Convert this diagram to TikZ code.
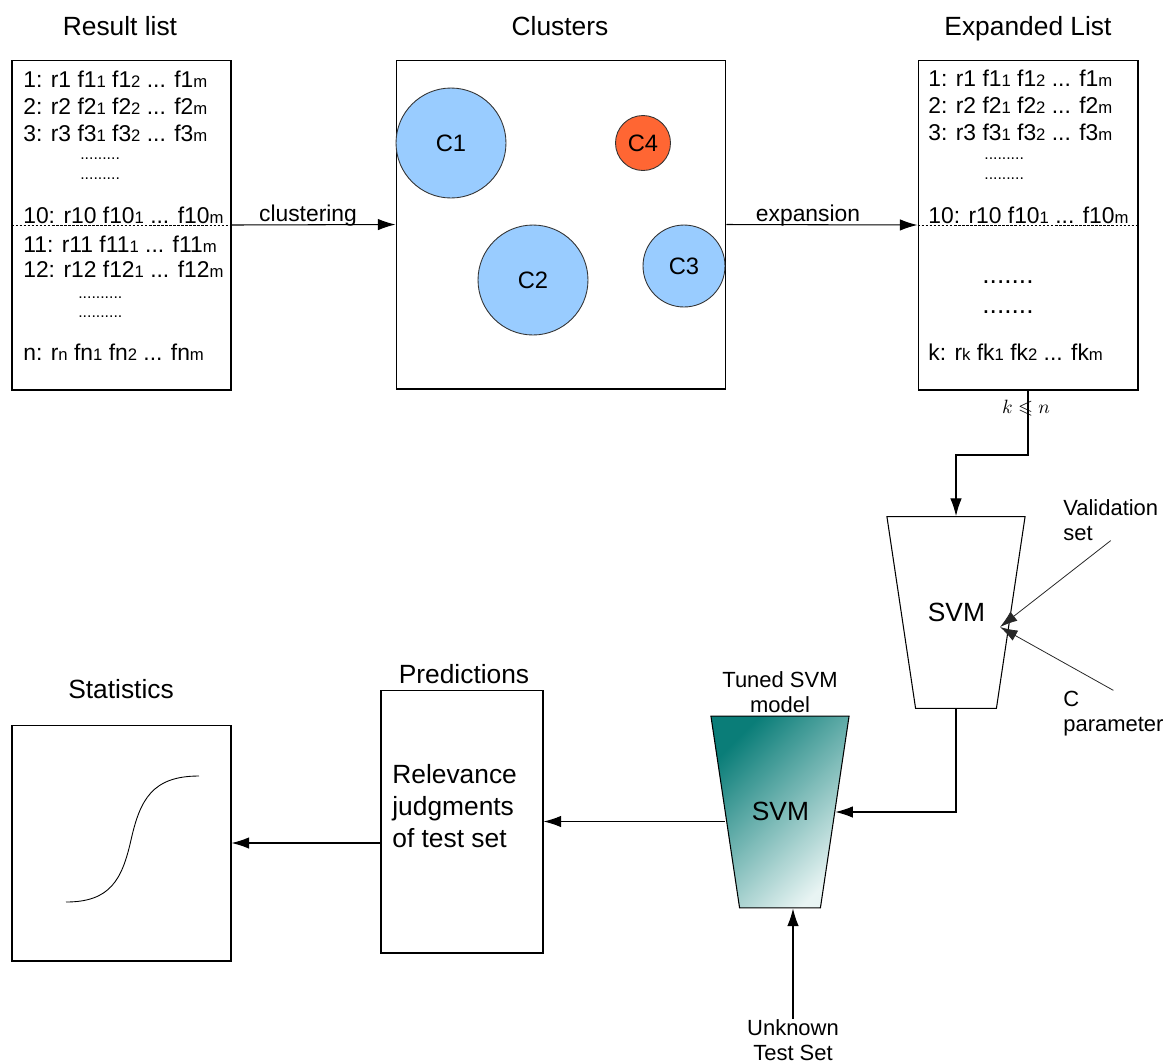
\documentclass[tikz,border=0pt]{standalone}
\usepackage{amssymb}
\usepackage{fontspec}
\setmainfont{Liberation Sans}
\usetikzlibrary{arrows.meta,shapes.geometric}
\definecolor{clblue}{RGB}{153,204,255}
\definecolor{clred}{RGB}{255,102,51}
\definecolor{svmdark}{RGB}{10,125,120}
\definecolor{svmlight}{RGB}{232,244,243}
\newcommand{\low}[1]{{\fontsize{9.5}{10}\selectfont #1}}

\begin{document}
\begin{tikzpicture}[x=0.02cm,y=-0.02cm]
            \tikzstyle{every node}+=[inner sep=0pt]
            \tikzstyle{box}=[draw, rectangle, line width=0.6pt]
            \tikzstyle{title}=[font=\fontsize{15}{18}\selectfont, anchor=base]
            \tikzstyle{entry}=[font=\fontsize{13}{15}\selectfont, anchor=base west]
            \tikzstyle{few}=[font=\fontsize{9}{9}\selectfont, anchor=base west]
            \tikzstyle{many}=[font=\fontsize{15}{15}\selectfont, anchor=base west]
            \tikzstyle{arrowtext}=[font=\fontsize{13}{15}\selectfont, anchor=base]
            \tikzstyle{note}=[font=\fontsize{12.5}{14.2}\selectfont, align=left, anchor=base west]
            \tikzstyle{cluster}=[draw=black!80, circle, line width=0.5pt, fill=clblue, font=\fontsize{13.5}{15}\selectfont]
            \tikzstyle{svmbox}=[draw, trapezium, shape border rotate=180, trapezium angle=81.5, line width=0.6pt, font=\fontsize{15}{18}\selectfont, text width=32pt, align=center, text height=10pt, text depth=0pt, inner xsep=7pt, inner ysep=49.6pt]
            \tikzstyle{flow}=[line width=0.6pt, -{Latex[length=10pt,width=6.5pt]}]
            \tikzstyle{thinflow}=[line width=0.45pt, black!85, -{Latex[length=10pt,width=6.5pt]}]
            \tikzstyle{cut}=[line width=0.45pt, dash pattern=on 1.5pt off 0.8pt]
            \useasboundingbox (0,0) rectangle (1171,1063);
            \node [title] (t1) at (120,35) {Result list};
            \node [title] (t2) at (560,35) {Clusters};
            \node [title] (t3) at (1028,35) {Expanded List};
            \node [title] (t4) at (121,698) {Statistics};
            \node [title] (t5) at (464,683) {Predictions};
            \node [box, minimum width=4.38cm, minimum height=6.6cm] (rlist) at (121.5,225) {};
            \node [box, minimum width=6.6cm, minimum height=6.58cm] (clusters) at (561,224.5) {};
            \node [box, minimum width=4.4cm, minimum height=6.6cm] (xlist) at (1028,225) {};
            \node [box, minimum width=4.38cm, minimum height=4.72cm] (stats) at (121.5,843) {};
            \node [box, minimum width=3.24cm, minimum height=5.26cm] (pred) at (462,821.5) {};
            \node [entry] (r1) at (23,87) {1: r1 f1\low{1} f1\low{2} ... f1\low{m}};
            \node [entry] (r2) at (23,114) {2: r2 f2\low{1} f2\low{2} ... f2\low{m}};
            \node [entry] (r3) at (23,141) {3: r3 f3\low{1} f3\low{2} ... f3\low{m}};
            \node [few] (rd1) at (80,159) {.........};
            \node [few] (rd2) at (80,179) {.........};
            \node [entry] (r10) at (23,223) {10: r10 f10\low{1} ... f10\low{m}};
            \node [entry] (r11) at (23,252) {11: r11 f11\low{1} ... f11\low{m}};
            \node [entry] (r12) at (23,277) {12: r12 f12\low{1} ... f12\low{m}};
            \node [few] (rd3) at (78,298) {..........};
            \node [few] (rd4) at (78,317) {..........};
            \node [entry] (rn) at (23,360) {n: r\low{n} fn\low{1} fn\low{2} ... fn\low{m}};
            \node [entry] (x1) at (928,86) {1: r1 f1\low{1} f1\low{2} ... f1\low{m}};
            \node [entry] (x2) at (928,113) {2: r2 f2\low{1} f2\low{2} ... f2\low{m}};
            \node [entry] (x3) at (928,140) {3: r3 f3\low{1} f3\low{2} ... f3\low{m}};
            \node [few] (xd1) at (984,159) {.........};
            \node [few] (xd2) at (984,179) {.........};
            \node [entry] (x10) at (928,223) {10: r10 f10\low{1} ... f10\low{m}};
            \node [many] (xd3) at (982,283) {.......};
            \node [many] (xd4) at (982,313) {.......};
            \node [entry] (xk) at (928,360) {k: r\low{k} fk\low{1} fk\low{2} ... fk\low{m}};
            \node [cluster, minimum size=2.2cm] (c1) at (451,143) {C1};
            \node [cluster, minimum size=2.2cm] (c2) at (533,280) {C2};
            \node [cluster, minimum size=1.64cm] (c3) at (684,266) {C3};
            \node [cluster, minimum size=1.1cm, fill=clred] (c4) at (643,143) {C4};
            \draw [cut] (rlist.west) -- (rlist.east);
            \draw [cut] (xlist.west) -- (xlist.east);
            \draw [flow] (rlist.east) -- (clusters.west);
            \node [arrowtext] (lclust) at (308,221) {clustering};
            \draw [flow] (clusters.east) -- (xlist.west);
            \node [arrowtext] (lexp) at (808,221) {expansion};
            \node [svmbox] (svm) at (956,612.5) {SVM};
            \node [svmbox, top color=svmdark, bottom color=svmlight, shading angle=45] (tuned) at (780,812) {SVM};
            \coordinate (bend) at (1028,455);
            \draw [flow] (xlist.south) -- (bend) -| (svm.north);
            \node [font=\fontsize{11}{12}\selectfont] (kn) at (1026,408) {$k\leqslant n$};
            \node [note] (valid) at (1063,540) {Validation\\set};
            \node [note] (cparam) at (1063,731) {C\\parameter};
            \coordinate (svmin) at (1000,627);
            \draw [thinflow] (valid.south) -- (svmin);
            \draw [thinflow] (cparam.north) -- (svmin);
            \draw [flow] (svm.south) |- (tuned.east);
            \node [note, align=center, anchor=base] (tlbl) at (780,712) {Tuned SVM\\model};
            \node [note, align=center, anchor=base] (unknown) at (793,1060) {Unknown\\Test Set};
            \draw [flow] (unknown.north) -- (unknown.north |- tuned.south);
            \draw [flow] (tuned.west |- pred.east) -- (pred.east);
            \node [font=\fontsize{15}{18.1}\selectfont, align=left, anchor=base west] (judge) at (392,847) {Relevance\\judgments\\of test set};
            \draw [flow] (pred.west |- stats.east) -- (stats.east);
            \draw [line width=0.5pt] (66,902) .. controls (110,902) and (122,880) .. (131,840) .. controls (140,800) and (152,776) .. (199,776);
          \end{tikzpicture}
\end{document}
